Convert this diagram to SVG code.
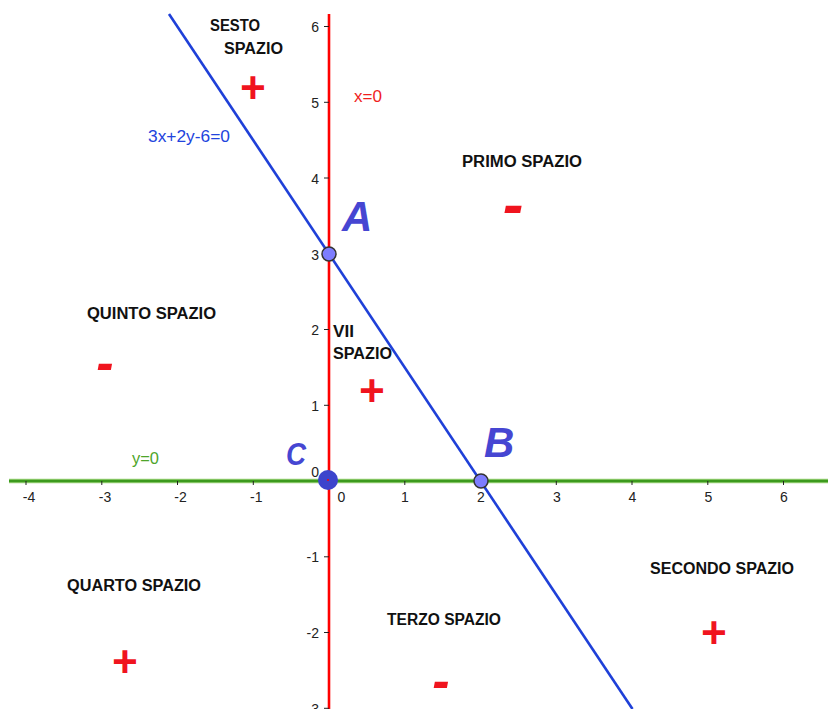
<svg xmlns="http://www.w3.org/2000/svg" width="828" height="709" viewBox="0 0 828 709">
<style>
.tick{stroke:#222;stroke-width:1}
.tl{font-family:"Liberation Sans",Arial,sans-serif;font-size:14px;fill:#222}
.reg{font-family:"Liberation Sans",Arial,sans-serif;font-size:16px;font-weight:bold;fill:#111}
.sign{font-family:"Liberation Sans",Arial,sans-serif;font-weight:bold;font-style:italic;fill:#f0141e}
.pt{font-family:"Liberation Sans",Arial,sans-serif;font-weight:bold;font-style:italic;fill:#4646d2}
.pv{fill:#7d7dff;stroke:#333;stroke-width:1.5}
</style>
<rect width="828" height="709" fill="#fff"/>
<g id="lines">
  <line x1="9" y1="481" x2="828" y2="481" stroke="#9bd27a" stroke-width="4.5"/>
  <line x1="9" y1="481" x2="828" y2="481" stroke="#3c9a1e" stroke-width="2.5"/>
  <line x1="329" y1="14" x2="329" y2="709" stroke="#ffb4b4" stroke-width="4"/>
  <line x1="329" y1="14" x2="329" y2="709" stroke="#f00" stroke-width="2"/>
  <line x1="169" y1="14" x2="632.5" y2="709" stroke="#1f40d8" stroke-width="2.6"/>
</g>
<g id="ticks">
  <path class="tick" d="M26.0 481v4M101.8 481v4M177.5 481v4M253.3 481v4M404.8 481v4M480.5 481v4M556.3 481v4M632 481v4M707.8 481v4M783.5 481v4"/>
  <path class="tick" d="M324 26.5h5M324 102.3h5M324 178h5M324 253.8h5M324 329.5h5M324 405.3h5M324 556.8h5M324 632.5h5M324 708.3h5"/>
  <g class="tl" text-anchor="middle">
    <text x="29" y="502">-4</text>
    <text x="105" y="502">-3</text>
    <text x="180.5" y="502">-2</text>
    <text x="256.3" y="502">-1</text>
    <text x="341.5" y="502">0</text>
    <text x="405" y="502">1</text>
    <text x="481" y="502">2</text>
    <text x="557" y="502">3</text>
    <text x="632.5" y="502">4</text>
    <text x="708.3" y="502">5</text>
    <text x="784" y="502">6</text>
  </g>
  <g class="tl" text-anchor="end">
    <text x="319" y="32">6</text>
    <text x="319" y="108">5</text>
    <text x="319" y="183.5">4</text>
    <text x="319" y="259.5">3</text>
    <text x="319" y="335">2</text>
    <text x="319" y="410.5">1</text>
    <text x="319" y="477">0</text>
    <text x="319" y="562">-1</text>
    <text x="319" y="638">-2</text>
    <text x="319" y="714">-3</text>
  </g>
</g>
<g id="line-labels" font-family="'Liberation Sans',Arial,sans-serif" font-size="17">
  <text x="148" y="142" fill="#2244dd" textLength="82" lengthAdjust="spacingAndGlyphs">3x+2y-6=0</text>
  <text x="354" y="102" fill="#f01e1e" textLength="28" lengthAdjust="spacingAndGlyphs">x=0</text>
  <text x="132" y="464" fill="#4ea52a" textLength="27" lengthAdjust="spacingAndGlyphs">y=0</text>
</g>
<g id="regions" class="reg">
  <text x="210" y="31" textLength="50" lengthAdjust="spacingAndGlyphs">SESTO</text>
  <text x="224" y="54" textLength="59" lengthAdjust="spacingAndGlyphs">SPAZIO</text>
  <text x="462" y="167" textLength="120" lengthAdjust="spacingAndGlyphs">PRIMO SPAZIO</text>
  <text x="87" y="319" textLength="129" lengthAdjust="spacingAndGlyphs">QUINTO SPAZIO</text>
  <text x="333" y="337" textLength="21" lengthAdjust="spacingAndGlyphs">VII</text>
  <text x="333" y="359" textLength="59" lengthAdjust="spacingAndGlyphs">SPAZIO</text>
  <text x="67" y="591" textLength="134" lengthAdjust="spacingAndGlyphs">QUARTO SPAZIO</text>
  <text x="387" y="625" textLength="114" lengthAdjust="spacingAndGlyphs">TERZO SPAZIO</text>
  <text x="650" y="574" textLength="144" lengthAdjust="spacingAndGlyphs">SECONDO SPAZIO</text>
</g>
<g id="signs" class="sign" text-anchor="middle">
  <text x="252" y="103" font-size="44">+</text>
  <text x="513" y="225" font-size="62">-</text>
  <text x="105" y="380" font-size="52">-</text>
  <text x="371" y="406" font-size="44">+</text>
  <text x="124" y="677" font-size="44">+</text>
  <text x="441" y="698" font-size="52">-</text>
  <text x="713" y="648" font-size="44">+</text>
</g>
<g id="A">
  <circle class="pv" cx="329" cy="254" r="7"/>
  <text class="pt" x="342" y="231" font-size="42">A</text>
</g>
<g id="B">
  <circle class="pv" cx="481" cy="481" r="7"/>
  <text class="pt" x="484" y="457" font-size="42">B</text>
</g>
<g id="C">
  <circle cx="328" cy="480" r="10" fill="#3c44cc"/>
  <circle cx="328" cy="480" r="1" fill="#f00"/>
  <text class="pt" x="286" y="465" font-size="31" textLength="20" lengthAdjust="spacingAndGlyphs">C</text>
</g>
</svg>
